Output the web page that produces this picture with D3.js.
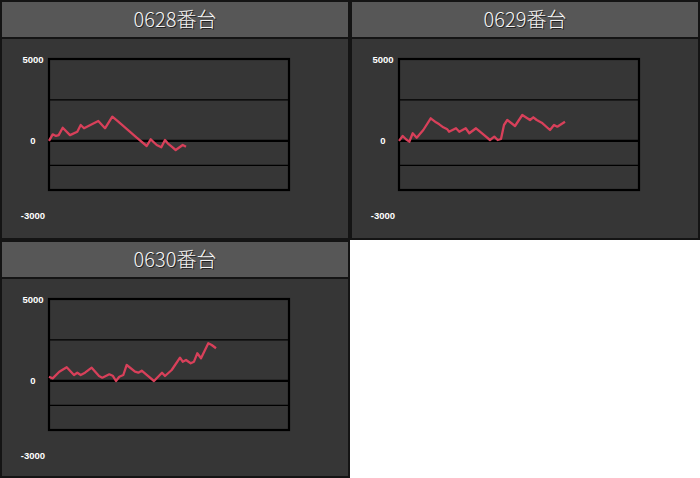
<!DOCTYPE html>
<html><head><meta charset="utf-8">
<script src="https://cdn.jsdelivr.net/npm/d3@7/dist/d3.min.js"></script>
<style>html,body{margin:0;padding:0;background:#fff;}svg{display:block;}</style>
</head><body>
<script>
const titles = ["0628番台", "0629番台", "0630番台"];
const yTicks = [5000, 0, -3000];
const gridValues = [2500, -1500];

const games1 = [0,123,233,323,457,700,943,1057,1167,1643,1867,2110,2310,2923,3257,3390,3590,3743,3867,3957,4090,4223,4457,4567];
const values1 = [0,400,300,350,800,350,560,970,770,1214,770,1476,1171,194,-313,96,-250,-392,54,-148,-356,-557,-252,-356];

const games2 = [0,123,233,343,457,590,810,1057,1233,1343,1477,1610,1667,1900,2010,2223,2343,2567,2790,3033,3177,3290,3400,3500,3610,3867,4110,4367,4477,4590,4757,5033,5167,5277,5533];
const values2 = [0,300,100,-50,463,194,664,1379,1134,1012,829,707,560,770,560,770,463,770,420,53,256,53,114,970,1275,908,1580,1275,1440,1275,1110,664,970,866,1171];

const games3 = [0,123,343,590,833,943,1057,1200,1423,1667,1777,2010,2123,2233,2343,2477,2590,2867,2977,3090,3257,3500,3767,3867,4090,4367,4457,4567,4723,4833,4943,5067,5310,5423,5567];
const values3 = [255,153,560,829,359,499,359,499,805,298,194,402,316,-8,255,359,970,560,499,621,359,-8,499,298,664,1415,1171,1275,1073,1171,1684,1379,2295,2191,1990];

const series = [
  {games: games1, values: values1},
  {games: games2, values: values2},
  {games: games3, values: values3}
];

const W = 700, H = 478;
const svg = d3.select("body").append("svg").attr("width", W).attr("height", H);
svg.append("rect").attr("width", W).attr("height", H).attr("fill", "#fff");

const panelW = 350, panelH = 240;
const origins = [[0,0],[350,0],[0,240]];

const x = d3.scaleLinear().domain([0, 8000]).range([49, 289]);
const y = d3.scaleLinear().domain([-3000, 5000]).range([190, 59]);

titles.forEach((t, i) => {
  const [ox, oy] = origins[i];
  const h = i === 2 ? H - oy : panelH;
  const g = svg.append("g").attr("transform", `translate(${ox},${oy})`);
  g.append("rect").attr("width", panelW).attr("height", h).attr("fill", "#141414");
  g.append("rect").attr("x", 2).attr("y", 2).attr("width", panelW - 4).attr("height", 35).attr("fill", "#575757");
  g.append("rect").attr("x", 2).attr("y", 39).attr("width", panelW - 4).attr("height", h - 41).attr("fill", "#363636");

  const tf = "'Noto Sans CJK JP', 'Noto Sans', sans-serif";
  g.append("text").attr("x", panelW/2 + 1).attr("y", 28).attr("text-anchor", "middle")
    .attr("font-family", tf).attr("font-size", 20).attr("font-weight", 300)
    .attr("fill", "#222").text(t);
  g.append("text").attr("x", panelW/2).attr("y", 27).attr("text-anchor", "middle")
    .attr("font-family", tf).attr("font-size", 20).attr("font-weight", 300)
    .attr("fill", "#f4f4f4").text(t);

  const [x0, x1] = x.range();
  g.selectAll(".grid").data(gridValues).enter().append("line")
    .attr("x1", x0).attr("x2", x1).attr("y1", d => y(d)).attr("y2", d => y(d))
    .attr("stroke", "#000").attr("stroke-width", 1.2);
  g.append("line").attr("x1", x0).attr("x2", x1).attr("y1", y(0)).attr("y2", y(0))
    .attr("stroke", "#000").attr("stroke-width", 2.2);
  g.append("rect").attr("x", x0).attr("y", y(5000)).attr("width", x1 - x0).attr("height", y(-3000) - y(5000))
    .attr("fill", "none").attr("stroke", "#000").attr("stroke-width", 2.2);

  g.selectAll(".tick").data(yTicks).enter().append("text")
    .attr("x", 33).attr("y", d => d === -3000 ? y(d) + 29 : y(d) + 3.5)
    .attr("text-anchor", "middle")
    .attr("font-family", "'Liberation Sans', Arial, sans-serif").attr("font-weight", "bold")
    .attr("font-size", 9.5).attr("fill", "#fff").text(d => d);

  const s = series[i];
  const pts = s.games.map((gm, k) => [gm, s.values[k]]);
  const line = d3.line().x(d => x(d[0])).y(d => y(d[1]));
  g.append("path").attr("d", line(pts)).attr("fill", "none")
    .attr("stroke", "#d8405a").attr("stroke-width", 2.3).attr("stroke-linejoin", "round");
});
</script>
</body></html>
